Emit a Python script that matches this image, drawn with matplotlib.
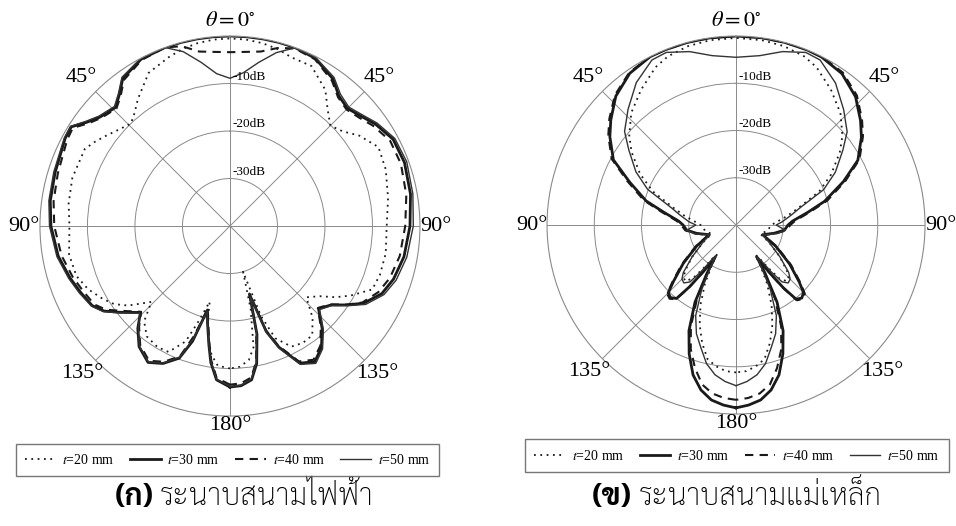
import numpy as np
import matplotlib
matplotlib.use("Agg")
import matplotlib.pyplot as plt
from matplotlib.lines import Line2D

plt.rcParams['font.family'] = ['Liberation Serif', 'DejaVu Serif']
plt.rcParams['mathtext.fontset'] = 'stix'

# ---------------- data (dB vs angle, 0 deg at top, clockwise positive) --------------
# (a) E-plane
ang_e = [-180, -175, -172, -170, -167, -165, -162, -159, -154, -149,
         -143, -138, -134, -128, -124, -120, -114, -108, -100, -90,
         -82, -73, -62, -58, -54, -50, -44, -40, -36, -28,
         -20, -15, -10, -5, 0, 5, 10, 15, 20, 27,
         35, 40, 45, 50, 55, 62, 70, 80, 90, 100,
         108, 114, 120, 124, 128, 133, 138, 143, 148, 153,
         158, 161, 164, 166, 169, 172, 176, 180]
e_t20 = [-10, -10.5, -12.5, -14.5, -19, -23.5, -19.2, -14, -10.5, -10.3,
         -10.9, -13, -17, -12.8, -10.6, -9.2, -7.3, -6, -5.6, -6.2,
         -5.7, -5.3, -5.4, -6.5, -7.7, -8.8, -10, -8.8, -7, -3.5,
         -2.2, -1.4, -0.9, -0.6, -0.5, -0.6, -0.9, -1.4, -2.2, -2.2,
         -5, -8, -10.1, -9, -6.8, -4.6, -5.1, -6.2, -7, -6.7,
         -6.8, -7.2, -10.7, -13.2, -16, -18, -14, -11.2, -11, -11.5,
         -14.5, -20, -30, -22, -14, -11.5, -10.3, -10]
e_t30 = [-6.1, -7.5, -11, -14.5, -19, -21.7, -14.5, -10.2, -7.8, -6.5,
         -8.2, -11, -13.8, -10.5, -8, -6.5, -5.6, -4.6, -3.3, -2.3,
         -1.8, -1.5, -0.7, -0.6, -2.8, -4.3, -5.3, -3.8, -1.6, -0.2,
         0, 0, 0, 0, 0, 0, 0, 0, 0, -0.4,
         -2.2, -4.3, -5.0, -4.0, -2.6, -1.1, -0.9, -1.4, -2.1, -2.8,
         -3.8, -5, -7.5, -10.3, -13, -14.5, -11, -8, -6.3, -7.6,
         -12.5, -16.5, -24.9, -16.5, -10.5, -7.3, -6.3, -6.1]
e_t40 = [-6.6, -7.9, -11.5, -15, -19.5, -22, -15.8, -10.6, -8.2, -6.9,
         -8.6, -11.4, -14, -11, -8.5, -7, -6.2, -5.2, -4, -3.0,
         -2.5, -2.1, -1.2, -1.0, -3.2, -4.6, -5.6, -4.2, -2.0, -0.4,
         0, -0.8, -2.7, -3.2, -3.4, -3.2, -2.7, -1.2, -0.2, -0.6,
         -2.6, -4.6, -5.3, -4.5, -3.2, -1.8, -1.7, -2.3, -3.1, -3.7,
         -4.6, -5.8, -7.8, -10.4, -13.2, -14.7, -11.4, -8.4, -6.8, -8,
         -12.8, -16.8, -25.2, -17, -11, -7.8, -6.8, -6.6]
e_t50 = [-6.3, -7.6, -11.2, -14.5, -19, -21.5, -15, -10.4, -7.9, -6.6,
         -8.3, -11.2, -13.6, -10.3, -7.8, -6.3, -5.3, -4.3, -3.0, -2.0,
         -1.5, -1.2, -0.5, -0.4, -2.5, -4.0, -5.0, -3.5, -1.3, 0,
         0, -2, -5, -7.8, -8.9, -7.6, -5.0, -2.2, -0.1, -0.2,
         -1.8, -3.8, -4.6, -3.6, -2.2, -0.7, -0.4, -0.9, -1.4, -2.2,
         -3.2, -4.5, -7.0, -10, -12.8, -14.2, -10.6, -7.6, -5.9, -7.3,
         -12.2, -16.3, -24.5, -16.8, -10.8, -7.5, -6.4, -6.2]

# (b) H-plane
ang_h = [-180, -176, -172, -168, -164, -160, -156, -152, -149, -147,
         -145, -143, -141, -138, -135, -132, -126, -118, -110, -102,
         -96, -90, -86, -80, -75, -68, -62, -55, -50, -43,
         -35, -27, -22, -15, -8, 0, 8, 15, 22, 27,
         35, 43, 50, 55, 62, 68, 75, 80, 86, 90,
         96, 102, 110, 118, 126, 132, 135, 138, 141, 143,
         145, 147, 149, 152, 156, 160, 164, 168, 172, 176, 180]
h_t20 = [-8.8, -9, -9.8, -11, -14, -17.5, -21.5, -26, -30, -32.5,
         -31.5, -28.5, -25.5, -24, -24.3, -25.5, -28.5, -32, -34.5, -33.5,
         -33, -32.5, -31.5, -29, -26.5, -21, -17, -13, -10.5, -7.5,
         -5, -2.5, -1.5, -0.8, -0.5, -0.4, -0.5, -0.8, -1.5, -2.5,
         -5, -7.6, -10.6, -13.2, -17.2, -21, -26.5, -29, -31.5, -32.5,
         -33, -33.5, -34.5, -32, -28.5, -25.5, -24.3, -24, -25.5, -28.5,
         -31.5, -32.5, -30, -26, -21.5, -17.5, -14, -11, -9.8, -9, -8.8]
h_t30 = [-1.3, -1.8, -2.6, -4.3, -7, -11, -15.5, -21.5, -28, -32,
         -28, -23.6, -20, -19.3, -19.7, -22.2, -26.2, -30.6, -34, -31.5,
         -29.5, -28.8, -27.8, -24.5, -20.3, -15.7, -10.6, -7.4, -5.4, -2.7,
         -0.8, 0, 0, 0, 0, 0, 0, 0, 0, -0.1,
         -0.9, -2.9, -5.6, -7.6, -10.8, -15.5, -20.6, -24.6, -28, -29,
         -29.7, -31.7, -34, -30.5, -26, -22, -19.8, -19.2, -19.8, -23.4,
         -27.8, -32, -28, -21.5, -15.5, -11, -7, -4.3, -2.6, -1.8, -1.3]
h_t40 = [-3.0, -3.3, -4, -5.5, -8.5, -12, -16.5, -22.5, -28.5, -32,
         -28, -23.3, -19.8, -19, -19.4, -21.8, -25.8, -30.3, -33.8, -31.3,
         -29.2, -28.4, -27.4, -24, -19.8, -15.2, -10.2, -7, -5, -2.4,
         -0.6, 0, 0, 0, 0, 0, 0, 0, 0, 0,
         -0.6, -2.5, -5.2, -7.2, -10.4, -15, -20, -24.1, -27.5, -28.5,
         -29.3, -31.4, -33.8, -30.2, -25.6, -21.6, -19.4, -18.9, -19.5, -23,
         -27.5, -32, -28.5, -22.5, -16.5, -12, -8.5, -5.5, -4, -3.3, -3.0]
h_t50 = [-6, -6.8, -8, -10, -13, -15.5, -19, -24.5, -29.5, -32,
         -31, -27.5, -24.5, -23.5, -23.8, -25, -28.5, -32, -34, -31,
         -29.5, -31.5, -30, -28, -25.8, -19.8, -16, -12.3, -9.2, -6.5,
         -3.2, -0.8, -0.6, -2, -3.8, -4.5, -3.8, -2, -0.6, -0.8,
         -3.3, -6.6, -9.3, -12.4, -16.2, -20, -26, -28.2, -30.2, -31.5,
         -29.5, -31.2, -34, -32, -28.5, -25, -23.8, -23.5, -24.5, -27.5,
         -31, -32, -29.5, -24.5, -19, -15.5, -13, -10, -8, -6.8, -6]

series_labels = [r'$t$=20 mm', r'$t$=30 mm', r'$t$=40 mm', r'$t$=50 mm']
ring_labels = ['-10dB', '-20dB', '-30dB']
ring_values = [-10, -20, -30]
angle_ticks = [0, 45, 90, 135, 180, 225, 270, 315]
angle_names = [r'$\theta = 0^{\circ}$', '45°', '90°', '135°', '180°', '135°', '90°', '45°']
cap_marks = ['(ก)', '(ข)']
captions = ['ระนาบสนามไฟฟ้า', 'ระนาบสนามแม่เหล็ก']

thai_family = ['Sarabun', 'Loma', 'DejaVu Sans']

styles = [
    dict(color='#1a1a1a', lw=1.3, ls=(0, (1, 2.5))),
    dict(color='#1a1a1a', lw=2.0, ls='-'),
    dict(color='#1a1a1a', lw=1.5, ls=(0, (4, 3))),
    dict(color='#333333', lw=1.0, ls='-'),
]

fig = plt.figure(figsize=(9.56, 5.26), dpi=100)
ax_e = fig.add_axes([0.0418, 0.2091, 0.3975, 0.7224], projection='polar')
ax_h = fig.add_axes([0.5722, 0.2129, 0.3954, 0.7186], projection='polar')

plots = [(ax_e, ang_e, [e_t20, e_t30, e_t40, e_t50]),
         (ax_h, ang_h, [h_t20, h_t30, h_t40, h_t50])]

# how far outside the 0 dB ring each angle label sits (in dB units)
label_r = {0: 3.0, 45: 4.3, 90: 3.3, 135: 3.9, 180: 2.1}

for ax, ang, data in plots:
    ax.set_theta_zero_location('N')
    ax.set_theta_direction(-1)
    th = np.radians(ang)
    for vals, st in zip(data, styles):
        ax.plot(th, vals, **st)
    ax.set_xlim(0, 2 * np.pi)
    ax.set_ylim(-40, 0)
    ax.set_yticks(ring_values)
    ax.set_yticklabels([])
    ax.set_xticks(np.radians(angle_ticks))
    ax.set_xticklabels([])
    ax.grid(True, color='#8a8a8a', lw=0.7)
    ax.spines['polar'].set_color('#8a8a8a')
    ax.spines['polar'].set_linewidth(0.8)
    ax.set_facecolor('none')
    for a, name in zip(angle_ticks, angle_names):
        key = min(a, 360 - a)
        ax.text(np.radians(a), label_r[key], name, ha='center', va='center',
                fontsize=16, clip_on=False)
    for rv, lbl in zip(ring_values, ring_labels):
        ax.annotate(lbl, xy=(0, rv), xytext=(1.5, 0.5), textcoords='offset points',
                    ha='left', va='bottom', fontsize=9.5, annotation_clip=False)

handles = [Line2D([], [], **st) for st in styles]
for cx, cy in [(0.238, 0.126), (0.771, 0.134)]:
    fig.legend(handles, series_labels, loc='center', bbox_to_anchor=(cx, cy), ncol=4,
               frameon=True, fancybox=False, edgecolor='#555555', fontsize=10,
               handlelength=2.2, handletextpad=0.5, columnspacing=1.1,
               borderpad=0.65)

# captions: bold "(ก)" / "(ข)" then the plane name
for xm, xt, mark, cap in zip([154, 632], [160, 639], cap_marks, captions):
    fig.text(xm / 956, 0.04, mark, ha='right', va='baseline', fontsize=21.5,
             fontweight='bold', family=thai_family)
    fig.text(xt / 956, 0.04, cap, ha='left', va='baseline', fontsize=21.5,
             fontweight='light', family=thai_family)

fig.savefig('out.png', dpi=100)
